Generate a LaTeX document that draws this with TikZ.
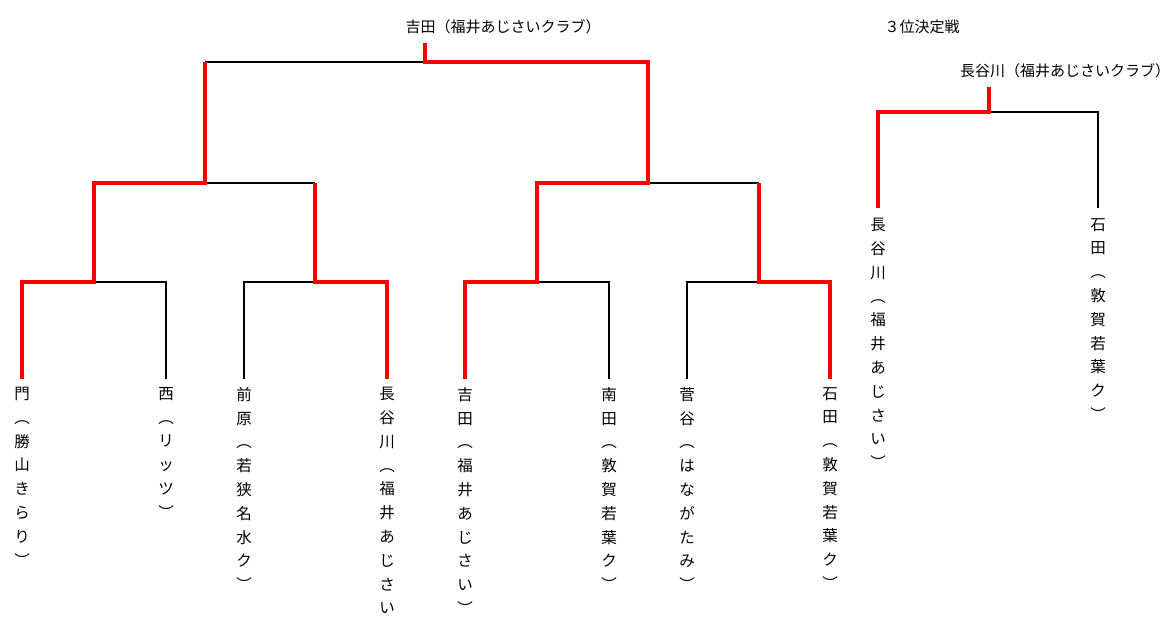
\documentclass[tikz,border=0pt]{standalone}
\usepackage{fontspec}
\newfontfamily\jpfont{Noto Sans CJK JP}
\usetikzlibrary{positioning}

\tikzset{
	win/.style={draw=red, line width=4.5pt},
	lose/.style={draw=black, line width=1.8pt},
	elbow/.style={to path={|- (\tikztotarget)}},
	vname/.style={align=center, inner sep=0pt, font=\jpfont\fontsize{15.5}{23.8}\selectfont},
	hname/.style={inner sep=0pt, font=\jpfont\fontsize{15}{18}\selectfont},
}

\begin{document}
\begin{tikzpicture}[x=1pt, y=-1pt]
		
		\useasboundingbox (0,0) rectangle (1169,618);
		
		% bracket ends
		\coordinate (p1) at (22,379);
		\coordinate (p2) at (166,379);
		\coordinate (p3) at (244,379);
		\coordinate (p4) at (387,379);
		\coordinate (p5) at (465,379);
		\coordinate (p6) at (609,379);
		\coordinate (p7) at (687,379);
		\coordinate (p8) at (830,379);
		\coordinate (q1) at (94,282);
		\coordinate (q2) at (315,282);
		\coordinate (q3) at (537,282);
		\coordinate (q4) at (759,282);
		\coordinate (s1) at (205,183);
		\coordinate (s2) at (648,183);
		\coordinate (f) at (425,62);
		\coordinate (ftop) at (425,43);
		
		% third place
		\coordinate (t1) at (878,208);
		\coordinate (t2) at (1098,208);
		\coordinate (tm) at (989,112);
		\coordinate (ttop) at (989,87);
		
		\node[hname] at (503,27) (champ) {吉田（福井あじさいクラブ）};
		\node[hname] at (922,27) (third) {３位決定戦};
		\node[hname] at (1065,71) (thirdwin) {長谷川（福井あじさいクラブ）};
		
		\node[vname, below=8pt of p1] (n1) {門\\︵\\勝\\山\\き\\ら\\り\\︶};
		\node[vname, below=8pt of p2] (n2) {西\\︵\\リ\\ッ\\ツ\\︶};
		\node[vname, below=8pt of p3] (n3) {前\\原\\︵\\若\\狭\\名\\水\\ク\\︶};
		\node[vname, below=8pt of p4] (n4) {長\\谷\\川\\︵\\福\\井\\あ\\じ\\さ\\い};
		\node[vname, below=8pt of p5] (n5) {吉\\田\\︵\\福\\井\\あ\\じ\\さ\\い\\︶};
		\node[vname, below=8pt of p6] (n6) {南\\田\\︵\\敦\\賀\\若\\葉\\ク\\︶};
		\node[vname, below=8pt of p7] (n7) {菅\\谷\\︵\\は\\な\\が\\た\\み\\︶};
		\node[vname, below=8pt of p8] (n8) {石\\田\\︵\\敦\\賀\\若\\葉\\ク\\︶};
		\node[vname, below=10pt of t1] (m1) {長\\谷\\川\\︵\\福\\井\\あ\\じ\\さ\\い\\︶};
		\node[vname, below=10pt of t2] (m2) {石\\田\\︵\\敦\\賀\\若\\葉\\ク\\︶};
		
		\path
		(p2) edge[lose, elbow] (q1)
		(p3) edge[lose, elbow] (q2)
		(p6) edge[lose, elbow] (q3)
		(p7) edge[lose, elbow] (q4)
		(q2 |- s1) edge[lose] (s1)
		(q4 |- s2) edge[lose] (s2)
		(s1 |- f) edge[lose] (f)
		(t2) edge[lose, elbow] (tm)
		;
		
		\draw[win] (p1) |- (q1) |- (s1) -- (s1 |- f);
		\draw[win] (p4) |- (q2) -- (q2 |- s1);
		\draw[win] (p5) |- (q3) |- (s2) |- (f) -- (ftop);
		\draw[win] (p8) |- (q4) -- (q4 |- s2);
		\draw[win] (t1) |- (tm) -- (ttop);
		
\end{tikzpicture}
\end{document}
